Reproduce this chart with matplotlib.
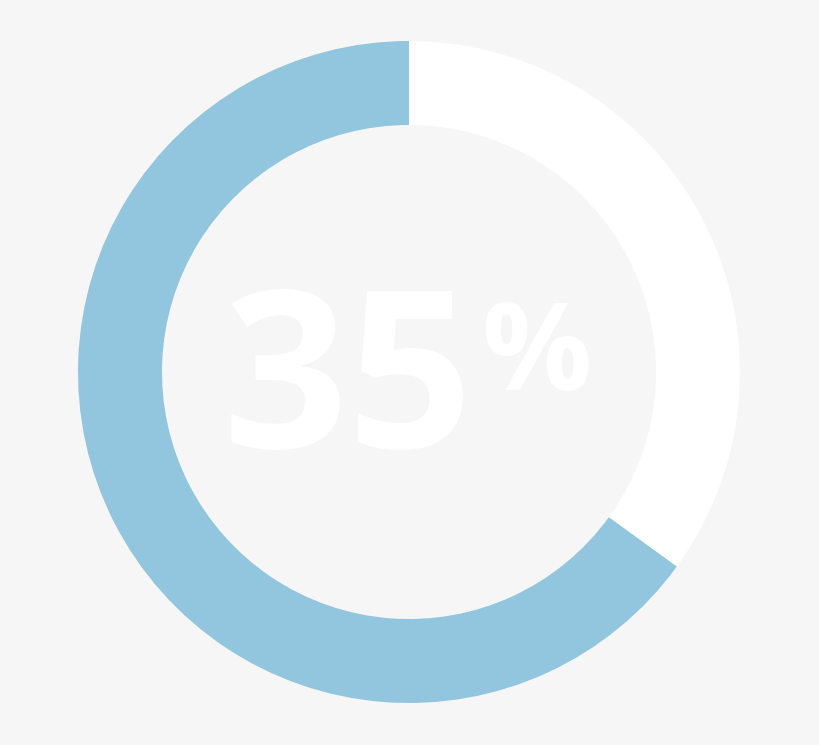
import matplotlib
matplotlib.use("Agg")
import matplotlib.pyplot as plt

# donut data (percent)
labels = ["done", "remaining"]
shares = [35, 65]
seg_colors = ["#ffffff", "#92c6de"]
value_text = "35"

fig = plt.figure(figsize=(8.2, 7.45), dpi=100)
fig.patch.set_facecolor("#f6f6f6")
ax = fig.add_axes([0, 0, 1, 1])
ax.set_facecolor("#f6f6f6")

ax.pie(shares, colors=seg_colors, radius=331, center=(409, 373),
       startangle=90, counterclock=False,
       wedgeprops=dict(width=84, linewidth=0), frame=True)
ax.set_xlim(0, 820)
ax.set_ylim(0, 745)
ax.set_aspect("equal")
ax.axis("off")

ax.text(348, 354, value_text, ha="center", va="center", color="white",
        fontsize=158, fontfamily="Open Sans", fontweight="bold")
ax.text(536, 387, "%", ha="center", va="center", color="white",
        fontsize=88, fontfamily="Open Sans", fontweight="bold")

fig.savefig("out.png", dpi=100, facecolor=fig.get_facecolor())
